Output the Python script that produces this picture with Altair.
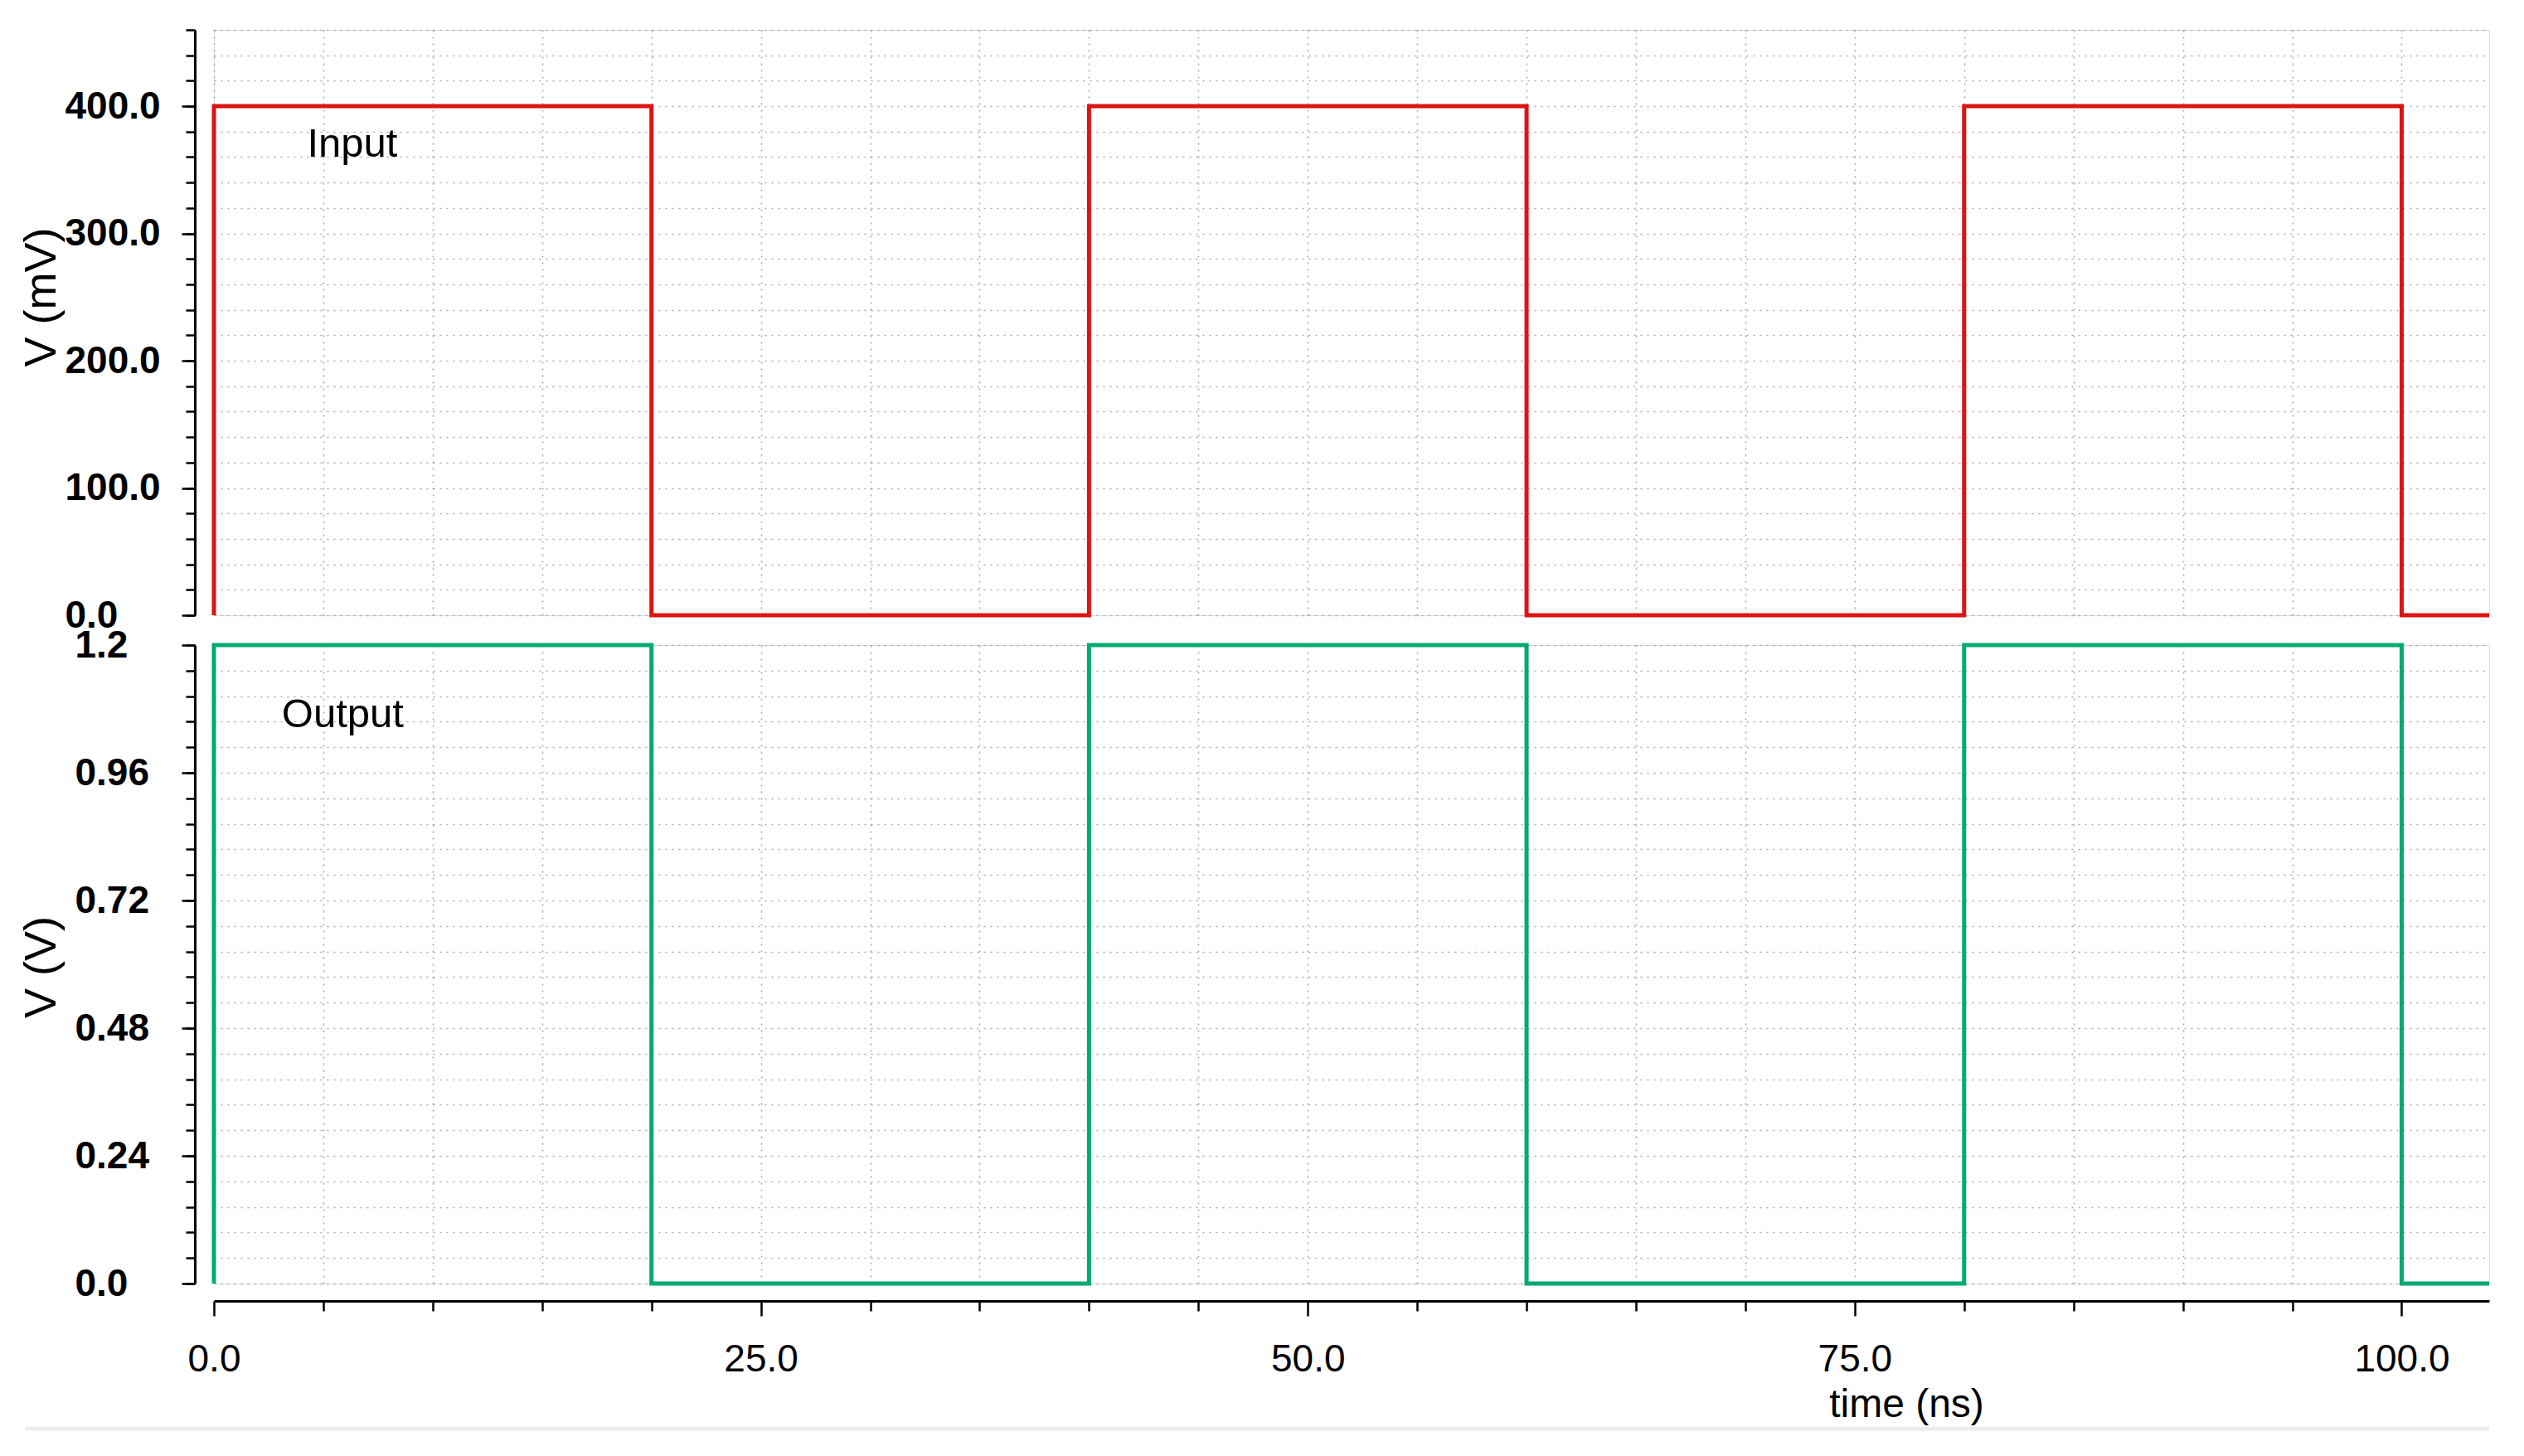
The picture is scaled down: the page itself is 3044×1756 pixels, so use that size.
import json
import altair as alt
import pandas as pd

# ---- data ----
t_input = [0, 0, 20, 20, 40, 40, 60, 60, 80, 80, 100, 100, 104]
v_input = [0, 400, 400, 0, 0, 400, 400, 0, 0, 400, 400, 0, 0]          # mV
t_output = [0, 0, 20, 20, 40, 40, 60, 60, 80, 80, 100, 100, 104]
v_output = [0, 1.2, 1.2, 0, 0, 1.2, 1.2, 0, 0, 1.2, 1.2, 0, 0]          # V

x_ticks = [0, 5, 10, 15, 20, 25, 30, 35, 40, 45, 50, 55, 60, 65, 70, 75,
           80, 85, 90, 95, 100]
x_labels = [0, 25, 50, 75, 100]
x_label_text = ["0.0", "25.0", "50.0", "75.0", "100.0"]

top_ticks = [0, 20, 40, 60, 80, 100, 120, 140, 160, 180, 200, 220, 240, 260,
             280, 300, 320, 340, 360, 380, 400, 420, 440, 460]
top_labels = [0, 100, 200, 300, 400]
top_label_text = ["0.0", "100.0", "200.0", "300.0", "400.0"]

bot_ticks = [0, 0.048, 0.096, 0.144, 0.192, 0.24, 0.288, 0.336, 0.384, 0.432,
             0.48, 0.528, 0.576, 0.624, 0.672, 0.72, 0.768, 0.816, 0.864,
             0.912, 0.96, 1.008, 1.056, 1.104, 1.152, 1.2]
bot_labels = [0, 0.24, 0.48, 0.72, 0.96, 1.2]
bot_label_text = ["0.0", "0.24", "0.48", "0.72", "0.96", "1.2"]

ann_top = pd.DataFrame({"t": [4.26], "v": [360], "text": ["Input"]})
ann_bot = pd.DataFrame({"t": [3.1], "v": [1.046], "text": ["Output"]})

df_in = pd.DataFrame({"t": t_input, "v": v_input, "i": range(len(t_input))})
df_out = pd.DataFrame({"t": t_output, "v": v_output, "i": range(len(t_output))})

RED = "#dc1414"
GREEN = "#00aa72"
FONT = "Liberation Sans"

W = 2744
H_TOP = 706
H_BOT = 770


def label_expr(vals, texts):
    return (f"indexof({json.dumps(vals)}, datum.value) >= 0 ? "
            f"{json.dumps(texts)}[indexof({json.dumps(vals)}, datum.value)] : ''")


def cond(vals, major, minor):
    return {"condition": {"test": f"indexof({json.dumps(vals)}, datum.value) >= 0",
                          "value": major}, "value": minor}


grid_style = dict(grid=True, gridColor="#8f8f8f", gridDash=[2, 6],
                  gridWidth=1.6, gridOpacity=0.75)

x_scale = alt.Scale(domain=[0, 104], nice=False, zero=False)


def minor_y_axis(ticks):
    # minor ticks + dotted grid, no labels
    return alt.Axis(values=ticks, labels=False, title=None, orient="left",
                    tickSize=11, tickColor="black", tickWidth=2.5,
                    domainColor="black", domainWidth=3, offset=23, **grid_style)


def major_y_axis(labels, texts, title, title_y, pad):
    return alt.Axis(values=labels, labelExpr=label_expr(labels, texts),
                    orient="left", grid=False, domain=False,
                    labelOverlap=False, labelFont=FONT, labelFontSize=46,
                    labelFontWeight="bold", labelColor="black",
                    labelAlign="left", labelBaseline="middle",
                    labelPadding=pad, tickSize=16, tickColor="black",
                    tickWidth=2.5, offset=23,
                    title=title, titleFont=FONT, titleFontSize=54,
                    titleFontWeight="normal", titleColor="black",
                    titleX=-185, titleY=title_y, titleAngle=270,
                    titleAlign="center", titleBaseline="middle")


# --- top panel ---
x_top = alt.X("t:Q", scale=x_scale, title=None,
              axis=alt.Axis(values=x_ticks, labels=False, ticks=False,
                            domain=False, **grid_style))
top_line = alt.Chart(df_in).mark_line(color=RED, strokeWidth=5, interpolate="linear").encode(
    x=x_top,
    y=alt.Y("v:Q", scale=alt.Scale(domain=[0, 460], nice=False),
            axis=minor_y_axis(top_ticks)),
    order="i:Q")
top_text = alt.Chart(ann_top).mark_text(align="left", baseline="alphabetic",
                                        font=FONT, fontSize=49, color="black").encode(
    x=x_top,
    y=alt.Y("v:Q", axis=major_y_axis(top_labels, top_label_text, "V (mV)", 322, 141)),
    text="text:N")
top = alt.layer(top_line, top_text).resolve_axis(y="independent").properties(
    width=W, height=H_TOP)

# --- bottom panel ---
x_bot = alt.X("t:Q", scale=x_scale,
              axis=alt.Axis(values=x_ticks,
                            labelExpr=label_expr(x_labels, x_label_text),
                            labelOverlap=False,
                            labelFlush=False, labelFont=FONT, labelFontSize=46,
                            labelColor="black", labelPadding=30,
                            tickSize=cond(x_labels, 18, 12),
                            tickColor="black", tickWidth=2.5,
                            domainColor="black", domainWidth=3, offset=21,
                            title="time (ns)", titleFont=FONT, titleFontSize=48,
                            titleFontWeight="normal", titleColor="black",
                            titleX=2041, titleY=125, titleAlign="center",
                            titleBaseline="middle", **grid_style))

bot_line = alt.Chart(df_out).mark_line(color=GREEN, strokeWidth=5, interpolate="linear").encode(
    x=x_bot,
    y=alt.Y("v:Q", scale=alt.Scale(domain=[0, 1.2], nice=False),
            axis=minor_y_axis(bot_ticks)),
    order="i:Q")
bot_text = alt.Chart(ann_bot).mark_text(align="left", baseline="alphabetic",
                                        font=FONT, fontSize=49, color="black").encode(
    x=x_bot,
    y=alt.Y("v:Q", axis=major_y_axis(bot_labels, bot_label_text, "V (V)", 388, 129)),
    text="text:N")
frame_line = alt.Chart(ann_bot).mark_rule(color="#ededed", strokeWidth=5).encode(
    x=alt.value(-228), x2=alt.value(W), y=alt.value(945))
bottom = alt.layer(bot_line, bot_text, frame_line).resolve_axis(y="independent").properties(
    width=W, height=H_BOT)

chart = alt.vconcat(top, bottom, spacing=36, bounds="flush").configure_view(
    stroke=None).configure(padding={"left": 14, "top": 26, "right": 10, "bottom": 10},
                           background="white")

chart.save("out.html", embed_options={"renderer": "svg", "actions": False})
